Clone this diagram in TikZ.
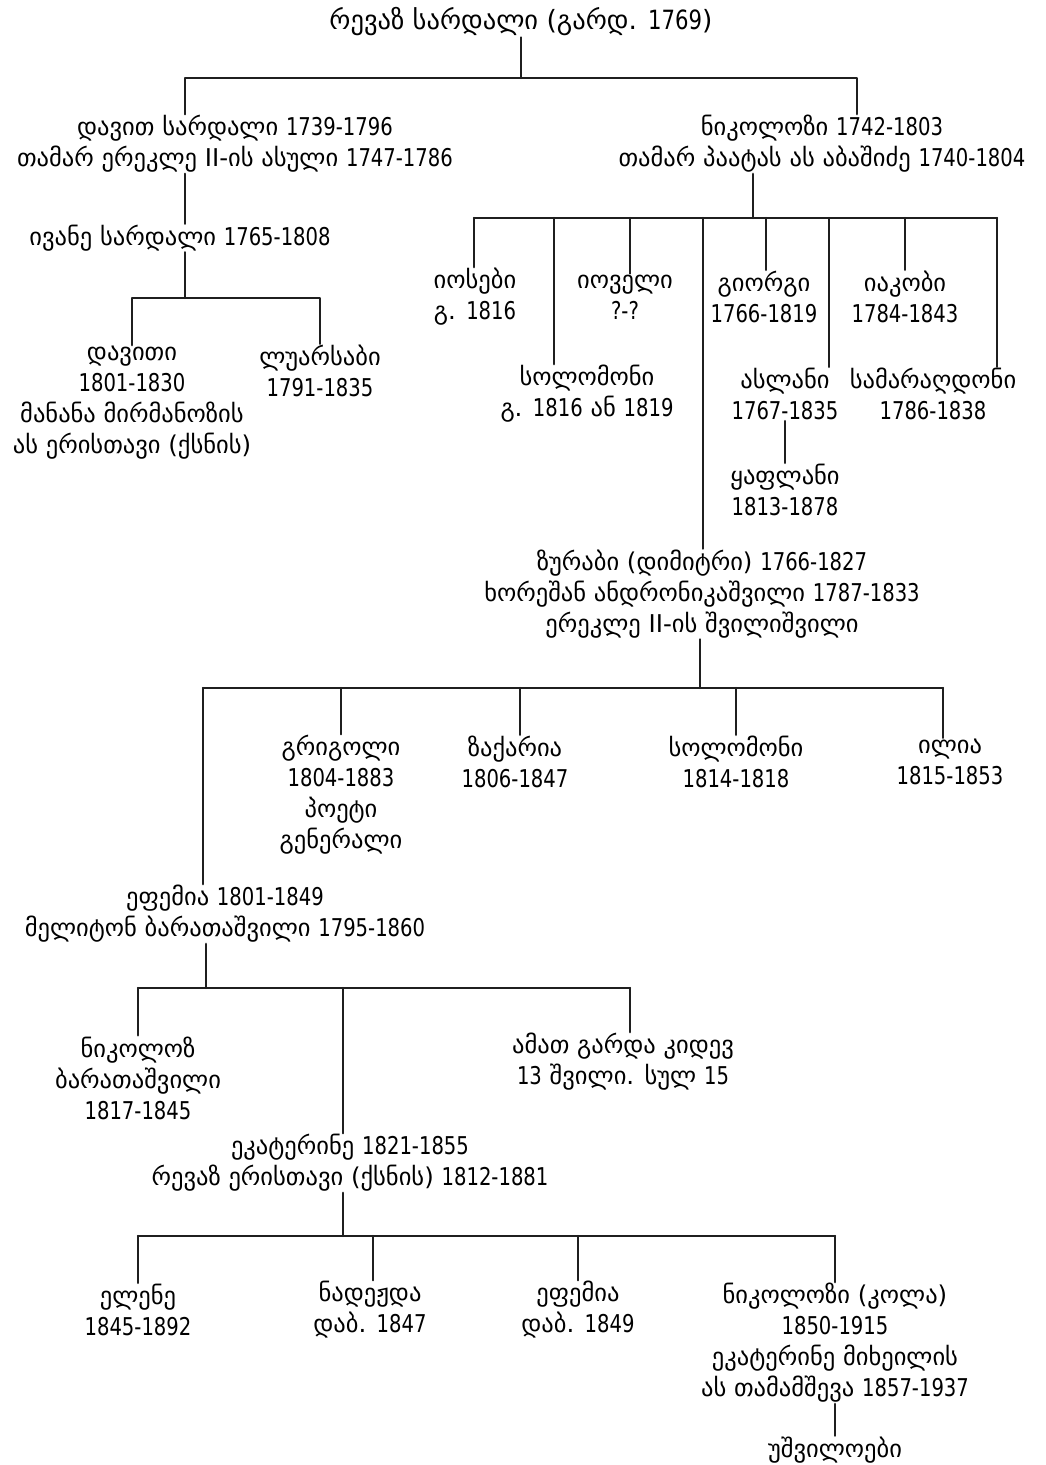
\documentclass[tikz,border=0pt]{standalone}
\usepackage{fontspec}
\setmainfont{DejaVu Sans}
\newfontfamily\numfont{DejaVu Sans}[FakeStretch=0.8]
\newcommand\yrs[1]{{\numfont #1}}
\begin{document}
\begin{tikzpicture}[x=1pt,y=-1pt, line join=round, line cap=round,
        person/.style={align=center, inner sep=1pt, font=\fontsize{24.5}{31}\selectfont},
        link/.style={line width=2.4pt, draw=black!88}]
    \useasboundingbox (0,0) rectangle (1046,1465);
    % bar heights of the families
    \def\ya{78} \def\yb{298} \def\yc{218} \def\yd{688} \def\ye{988} \def\yf{1236}
    % people
    \node[person, font=\fontsize{26.5}{31}\selectfont] (revaz) at (521,22) {რევაზ სარდალი (გარდ. \yrs{1769})};
    \node[person] (davit) at (235,144) {დავით სარდალი \yrs{1739-1796}\\თამარ ერეკლე II-ის ასული \yrs{1747-1786}};
    \node[person] (nikoloz) at (822,144) {ნიკოლოზი \yrs{1742-1803}\\თამარ პაატას ას აბაშიძე \yrs{1740-1804}};
    \node[person] (ivane) at (180,238) {ივანე სარდალი \yrs{1765-1808}};
    \node[person] (daviti) at (132,403) {დავითი\\\yrs{1801-1830}\\მანანა მირმანოზის\\ას ერისთავი (ქსნის)};
    \node[person] (luarsabi) at (320,371) {ლუარსაბი\\\yrs{1791-1835}};
    \node[person] (iosebi) at (475,297) {იოსები\\გ. \yrs{1816}};
    \node[person] (ioveli) at (625,297) {იოველი\\\yrs{?-?}};
    \node[person] (giorgi) at (764,297) {გიორგი\\\yrs{1766-1819}};
    \node[person] (iakobi) at (905,297) {იაკობი\\\yrs{1784-1843}};
    \node[person] (solomoni) at (587,394) {სოლომონი\\გ. \yrs{1816} ან \yrs{1819}};
    \node[person] (aslani) at (785,394) {ასლანი\\\yrs{1767-1835}};
    \node[person] (samaraldoni) at (933,394) {სამარაღდონი\\\yrs{1786-1838}};
    \node[person] (kaplani) at (785,490) {ყაფლანი\\\yrs{1813-1878}};
    \node[person] (zurabi) at (702,594) {ზურაბი (დიმიტრი) \yrs{1766-1827}\\ხორეშან ანდრონიკაშვილი \yrs{1787-1833}\\ერეკლე II-ის შვილიშვილი};
    \node[person] (grigoli) at (341,795) {გრიგოლი\\\yrs{1804-1883}\\პოეტი\\გენერალი};
    \node[person] (zakaria) at (515,762) {ზაქარია\\\yrs{1806-1847}};
    \node[person] (solomoni2) at (736,762) {სოლომონი\\\yrs{1814-1818}};
    \node[person] (ilia) at (950,762) {ილია\\\yrs{1815-1853}};
    \node[person] (epemia) at (225,914) {ეფემია \yrs{1801-1849}\\მელიტონ ბარათაშვილი \yrs{1795-1860}};
    \node[person] (nikoloz2) at (138,1078) {ნიკოლოზ\\ბარათაშვილი\\\yrs{1817-1845}};
    \node[person] (amat) at (623,1062) {ამათ გარდა კიდევ\\\yrs{13} შვილი. სულ \yrs{15}};
    \node[person] (ekaterine) at (350,1163) {ეკატერინე \yrs{1821-1855}\\რევაზ ერისთავი (ქსნის) \yrs{1812-1881}};
    \node[person] (elene) at (138,1310) {ელენე\\\yrs{1845-1892}};
    \node[person] (nadezhda) at (370,1310) {ნადეჟდა\\დაბ. \yrs{1847}};
    \node[person] (epemia2) at (578,1310) {ეფემია\\დაბ. \yrs{1849}};
    \node[person] (kola) at (835,1343) {ნიკოლოზი (კოლა)\\\yrs{1850-1915}\\ეკატერინე მიხეილის\\ას თამამშევა \yrs{1857-1937}};
    \node[person] (ushviloebi) at (835,1450) {უშვილოები};
    % revaz
    \draw[link] (revaz) -- (521,\ya);
    \draw[link] (185,0 |- davit.north) -- (185,\ya) -- (857,\ya) -- (857,0 |- nikoloz.north);
    % davit and ivane
    \draw[link] (185,0 |- davit.south) -- (185,0 |- ivane.north);
    \draw[link] (185,0 |- ivane.south) -- (185,\yb);
    \draw[link] (daviti.north) |- (320,\yb) -- (luarsabi.north);
    % nikoloz
    \draw[link] (753,0 |- nikoloz.south) -- (753,\yc);
    \draw[link] (474,\yc) -- (997,\yc);
    \foreach \x/\who in {474/iosebi, 554/solomoni, 630/ioveli, 703/zurabi, 766/giorgi, 829/aslani, 905/iakobi, 997/samaraldoni}
        \draw[link] (\x,\yc) -- (\x,0 |- \who.north);
    \draw[link] (aslani) -- (kaplani);
    % zurabi
    \draw[link] (700,0 |- zurabi.south) -- (700,\yd);
    \draw[link] (203,\yd) -- (943,\yd);
    \foreach \x/\who in {203/epemia, 341/grigoli, 520/zakaria, 736/solomoni2, 943/ilia}
        \draw[link] (\x,\yd) -- (\x,0 |- \who.north);
    % epemia
    \draw[link] (206,0 |- epemia.south) -- (206,\ye);
    \draw[link] (138,\ye) -- (630,\ye);
    \foreach \x/\who in {138/nikoloz2, 343/ekaterine, 630/amat}
        \draw[link] (\x,\ye) -- (\x,0 |- \who.north);
    % ekaterine
    \draw[link] (343,0 |- ekaterine.south) -- (343,\yf);
    \draw[link] (138,\yf) -- (835,\yf);
    \foreach \x/\who in {138/elene, 373/nadezhda, 578/epemia2, 835/kola}
        \draw[link] (\x,\yf) -- (\x,0 |- \who.north);
    \draw[link] (kola) -- (ushviloebi);
\end{tikzpicture}
\end{document}
